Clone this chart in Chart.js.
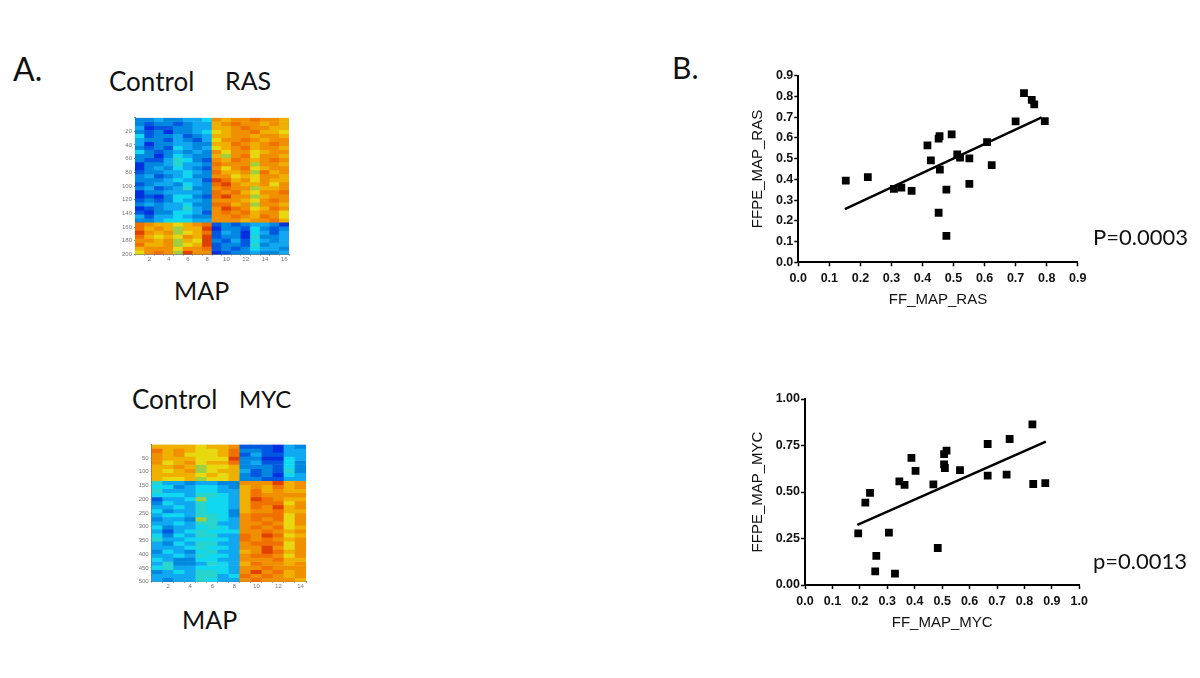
<!DOCTYPE html>
<html>
<head>
<meta charset="utf-8">
<title>MAP heatmaps and FF vs FFPE scatter plots</title>
<script src="https://cdn.jsdelivr.net/npm/chart.js@4"></script>
<style>
  html, body { margin: 0; background: #fff; width: 1200px; height: 678px; overflow: hidden; }
  canvas { position: absolute; }
  .heat { filter: blur(0.7px); }
  .lbl { position: absolute; font-family: Lato, "Open Sans", sans-serif; font-size: 26px; line-height: 30px; color: #111; white-space: nowrap; }
</style>
</head>
<body>
<canvas id="heatRas" class="heat" width="200" height="165" style="left:100px;top:105px"></canvas>
<canvas id="heatMyc" class="heat" width="200" height="165" style="left:117px;top:432px"></canvas>
<canvas id="scatRas" width="350" height="250" style="left:745px;top:65px"></canvas>
<canvas id="scatMyc" width="350" height="250" style="left:745px;top:388px"></canvas>

<div class="lbl" style="left:13px;top:54px;font-size:32px">A.</div>
<div class="lbl" style="left:109px;top:66px">Control</div>
<div class="lbl" style="left:225px;top:65px;font-size:25px">RAS</div>
<div class="lbl" style="left:174px;top:275px;font-size:25px">MAP</div>
<div class="lbl" style="left:132px;top:384px">Control</div>
<div class="lbl" style="left:239px;top:384px;font-size:24px">MYC</div>
<div class="lbl" style="left:182px;top:604px;font-size:25px">MAP</div>
<div class="lbl" style="left:672px;top:52px;font-size:30px">B.</div>
<div class="lbl" style="left:1093px;top:222px;font-size:22px">P=0.0003</div>
<div class="lbl" style="left:1093px;top:546px;font-size:22px">p=0.0013</div>

<script>
// heat levels 0 (deep blue) .. 11 (red orange)
var heatColors = ['#0030e0','#0058e0','#0088e0','#10a8f0','#10d8f0','#28d4cc','#a0d040','#e8d810','#f0b000','#f09000','#f07000','#e04000'];

var rasColumns = ['','2','','4','','6','','8','','10','','12','','14','','16'];
var rasRowTicks = 20;
var rasRowMax = 200;
var rasHeat = [
  [2,2,3,2,2,3,3,4,9,8,9,9,10,9,9,8],
  [2,1,2,2,1,2,3,3,8,9,10,9,9,8,9,8],
  [3,0,1,1,2,2,3,3,8,8,9,10,9,9,8,8],
  [2,1,2,0,2,2,3,4,7,8,9,9,10,8,8,7],
  [4,1,2,2,3,1,2,3,8,8,9,9,8,9,9,8],
  [3,2,2,1,3,2,1,3,7,9,9,10,9,8,9,9],
  [3,0,2,2,3,3,2,2,8,8,10,9,8,9,10,9],
  [2,1,2,1,4,3,2,3,7,8,9,10,8,9,9,8],
  [4,2,1,2,3,2,3,2,9,7,9,9,7,8,9,9],
  [2,2,0,2,4,3,2,2,8,6,9,10,7,9,9,8],
  [2,1,1,3,5,4,2,1,9,8,10,9,8,9,10,9],
  [0,2,2,3,5,3,3,2,10,9,9,9,6,9,9,8],
  [0,2,3,2,4,3,2,1,9,7,9,10,7,8,9,9],
  [1,2,2,3,3,4,3,2,10,8,8,9,6,10,8,9],
  [2,3,1,2,3,4,2,2,9,9,7,8,7,9,9,8],
  [2,2,2,3,4,3,3,1,11,10,8,9,7,9,8,8],
  [1,2,3,3,2,4,3,2,10,11,9,8,8,9,7,9],
  [2,3,1,2,3,5,2,2,9,10,9,9,6,8,8,9],
  [0,2,2,3,3,3,3,2,10,9,10,8,7,9,9,10],
  [0,1,0,2,4,4,2,1,10,11,9,9,6,8,9,9],
  [1,2,1,2,4,3,3,2,9,9,9,8,7,9,10,9],
  [2,3,2,3,3,4,2,2,10,10,8,9,6,9,9,8],
  [0,1,2,3,3,5,3,2,9,11,10,9,7,8,10,9],
  [1,0,2,2,4,4,3,1,9,10,9,10,8,9,9,7],
  [3,1,3,3,4,3,2,2,9,9,10,9,8,10,9,7],
  [2,2,3,4,4,4,3,3,9,9,9,8,9,9,10,8],
  [10,9,8,8,7,8,9,10,1,2,1,2,3,3,2,0],
  [10,8,9,8,6,8,8,11,0,2,2,1,4,2,1,2],
  [11,9,8,9,6,7,8,10,1,3,2,0,4,3,1,3],
  [10,8,7,8,7,9,8,11,1,2,2,0,5,2,2,3],
  [9,9,8,9,6,8,7,11,2,1,3,1,4,3,2,3],
  [10,8,8,9,6,7,8,11,1,2,2,1,5,2,3,3],
  [8,9,9,9,7,9,9,10,1,2,1,2,4,3,3,2],
  [7,9,10,9,6,11,9,9,0,1,2,2,3,2,2,3]
];

var mycColumns = ['','2','','4','','6','','8','','10','','12','','14'];
var mycRowTicks = 50;
var mycRowMax = 500;
var mycHeat = [
  [8,8,8,8,7,8,8,9,1,1,1,0,3,2],
  [10,8,9,8,7,7,8,10,2,2,1,0,3,3],
  [9,8,9,7,7,7,8,10,1,3,1,1,3,3],
  [9,8,8,8,7,7,7,11,2,2,0,0,4,3],
  [9,7,8,9,7,8,8,10,2,3,1,1,4,2],
  [8,8,9,8,6,7,7,8,2,2,2,1,4,2],
  [8,7,8,9,6,7,8,8,3,1,2,1,5,2],
  [8,8,8,8,7,8,7,8,2,1,2,0,4,3],
  [8,7,7,8,6,7,7,8,2,2,1,1,3,3],
  [5,3,3,2,3,3,2,2,9,9,9,11,8,9],
  [4,4,2,3,4,4,3,2,8,9,8,10,8,9],
  [5,3,3,3,4,4,3,3,8,10,8,9,8,8],
  [4,4,4,3,5,5,4,3,8,10,9,9,9,9],
  [1,3,3,4,6,4,4,3,8,11,10,9,8,8],
  [2,4,3,3,5,4,4,3,8,10,10,10,7,9],
  [3,3,4,3,5,4,4,3,8,10,9,11,8,9],
  [4,2,3,3,5,4,4,2,8,9,9,10,8,8],
  [3,4,4,3,5,5,4,2,9,10,10,10,7,9],
  [2,3,3,2,6,5,4,3,9,10,9,10,7,9],
  [3,3,4,3,5,5,3,3,9,9,10,9,7,9],
  [4,2,3,3,4,5,4,3,9,10,9,10,7,8],
  [3,1,3,4,5,4,4,4,9,9,10,9,8,9],
  [4,2,4,3,5,5,3,3,10,9,11,10,7,8],
  [5,3,3,4,4,4,4,3,10,9,10,9,8,9],
  [3,2,4,3,5,5,3,3,9,10,10,10,7,9],
  [3,3,3,4,5,4,4,3,9,9,11,9,7,9],
  [2,4,3,2,4,5,3,3,8,9,11,10,8,9],
  [3,3,4,3,5,4,4,3,9,10,10,9,7,9],
  [4,3,2,2,4,4,3,3,9,9,9,10,8,8],
  [3,5,2,2,3,5,4,3,8,10,9,9,8,9],
  [4,5,3,3,4,4,4,3,9,9,10,9,9,9],
  [2,3,4,3,5,5,4,3,9,11,9,10,8,9],
  [3,3,3,3,5,5,3,4,10,9,10,9,8,9],
  [3,2,3,3,5,4,3,3,9,10,9,9,9,8]
];

var rasX = [0.153,0.224,0.308,0.332,0.365,0.416,0.427,0.452,0.455,0.456,0.452,0.477,0.477,0.494,0.512,0.521,0.551,0.551,0.608,0.623,0.700,0.727,0.752,0.760,0.794];
var rasY = [0.394,0.411,0.354,0.360,0.344,0.564,0.492,0.596,0.609,0.447,0.239,0.350,0.127,0.617,0.521,0.505,0.501,0.378,0.580,0.469,0.680,0.816,0.783,0.762,0.681];
var rasFitX = [0.150,0.784];
var rasFitY = [0.257,0.699];

var mycX = [0.194,0.220,0.237,0.256,0.260,0.306,0.328,0.344,0.363,0.388,0.403,0.468,0.484,0.507,0.516,0.507,0.510,0.565,0.666,0.666,0.735,0.746,0.829,0.832,0.876];
var mycY = [0.278,0.443,0.495,0.073,0.156,0.281,0.061,0.557,0.538,0.683,0.613,0.541,0.199,0.704,0.722,0.649,0.629,0.618,0.758,0.588,0.593,0.785,0.864,0.543,0.548];
var mycFitX = [0.191,0.878];
var mycFitY = [0.323,0.771];

function makeHeat(id, rows, columns, rowMax, rowStep, box) {
  var rowSpan = rowMax / rows.length;
  var sets = rows.map(function (row) {
    return {
      data: row.map(function () { return rowSpan; }),
      backgroundColor: row.map(function (v) { return heatColors[v]; }),
      borderWidth: 0,
      barPercentage: 1,
      categoryPercentage: 1
    };
  });
  return new Chart(document.getElementById(id), {
    type: 'bar',
    data: { labels: columns, datasets: sets },
    options: {
      responsive: false,
      animation: false,
      layout: { padding: { left: 0, top: box.top, right: box.right, bottom: 0 } },
      plugins: { legend: { display: false }, tooltip: { enabled: false } },
      scales: {
        x: {
          stacked: true,
          grid: { drawOnChartArea: false, tickLength: 1, tickColor: '#888' },
          border: { color: '#777', width: 1 },
          ticks: { autoSkip: false, maxRotation: 0, font: { size: 6, family: 'Liberation Sans' }, color: '#777', padding: 0 },
          afterFit: function (s) { s.height = 165 - box.top - box.height; }
        },
        y: {
          stacked: true,
          reverse: true,
          min: 0,
          max: rowMax,
          grid: { drawOnChartArea: false, tickLength: 1, tickColor: '#888' },
          border: { color: '#777', width: 1 },
          ticks: {
            stepSize: rowStep,
            font: { size: 6, family: 'Liberation Sans' },
            color: '#777',
            padding: 2,
            callback: function (v) { return v === 0 ? '' : v; }
          },
          afterFit: function (s) { s.width = box.left; }
        }
      }
    }
  });
}

function makeScatter(id, xs, ys, fitX, fitY, opt) {
  var points = xs.map(function (x, i) { return { x: x, y: ys[i] }; });
  var fit = fitX.map(function (x, i) { return { x: x, y: fitY[i] }; });
  var tickFont = { size: 12.5, weight: 'bold', family: 'Liberation Sans' };
  var titleFont = { size: 15, family: 'Liberation Sans' };
  return new Chart(document.getElementById(id), {
    type: 'scatter',
    data: {
      datasets: [
        { data: points, pointStyle: 'rect', pointRadius: 5.5, backgroundColor: '#000', borderWidth: 0 },
        { data: fit, showLine: true, pointRadius: 0, borderColor: '#000', borderWidth: 2.5 }
      ]
    },
    options: {
      responsive: false,
      animation: false,
      layout: { padding: { left: 0, top: opt.top, right: opt.right, bottom: 0 } },
      plugins: { legend: { display: false }, tooltip: { enabled: false } },
      scales: {
        x: {
          min: 0,
          max: opt.xMax,
          grid: { drawOnChartArea: false, tickLength: 4, tickColor: '#000', tickWidth: 1.5 },
          border: { color: '#000', width: 2 },
          ticks: { stepSize: 0.1, maxRotation: 0, autoSkip: false, font: tickFont, color: '#111', padding: 5, callback: function (v) { return v.toFixed(1); } },
          title: { display: true, text: opt.xTitle, font: titleFont, color: '#111', padding: { top: 0, bottom: 6 } },
          afterFit: function (s) { s.height = 250 - opt.top - opt.height; }
        },
        y: {
          min: 0,
          max: opt.yMax,
          grid: { drawOnChartArea: false, tickLength: 4, tickColor: '#000', tickWidth: 1.5 },
          border: { color: '#000', width: 2 },
          ticks: { stepSize: opt.yStep, autoSkip: false, font: tickFont, color: '#111', padding: 1, callback: function (v) { return v.toFixed(opt.yDigits); } },
          title: { display: true, text: opt.yTitle, font: titleFont, color: '#111', padding: { top: 4, bottom: 0 } },
          afterFit: function (s) { s.width = opt.left; }
        }
      }
    }
  });
}

makeHeat('heatRas', rasHeat, rasColumns, rasRowMax, rasRowTicks, { left: 35, top: 12.5, right: 11, height: 137 });
makeHeat('heatMyc', mycHeat, mycColumns, mycRowMax, mycRowTicks, { left: 34.7, top: 12.3, right: 11, height: 137.4 });

makeScatter('scatRas', rasX, rasY, rasFitX, rasFitY, {
  left: 53.3, top: 10.7, right: 17.3, height: 186.6,
  xMax: 0.9, yMax: 0.9, yStep: 0.1, yDigits: 1,
  xTitle: 'FF_MAP_RAS', yTitle: 'FFPE_MAP_RAS'
});
makeScatter('scatMyc', mycX, mycY, mycFitX, mycFitY, {
  left: 60, top: 11, right: 15.7, height: 186,
  xMax: 1, yMax: 1, yStep: 0.25, yDigits: 2,
  xTitle: 'FF_MAP_MYC', yTitle: 'FFPE_MAP_MYC'
});
</script>
</body>
</html>
